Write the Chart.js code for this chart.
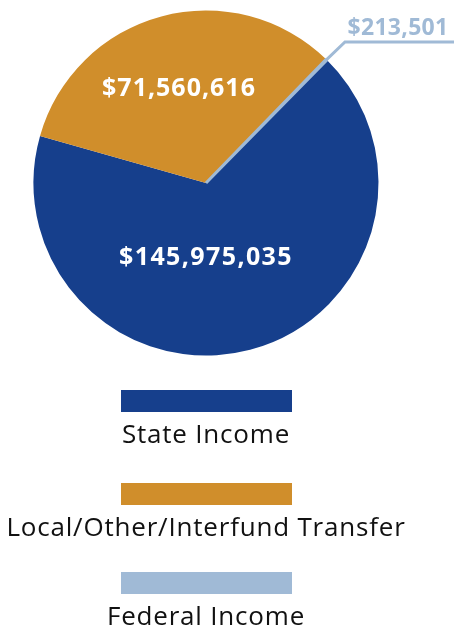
<!DOCTYPE html>
<html><head><meta charset="utf-8">
<script src="https://cdn.jsdelivr.net/npm/chart.js@4"></script>
<style>html,body{margin:0;padding:0;background:#fff;}#wrap{position:relative;width:454px;height:630px;}</style>
</head><body><div id="wrap"><canvas id="c" width="454" height="630"></canvas></div>
<script>
const categories = ["State Income", "Local/Other/Interfund Transfer", "Federal Income"];
const values = [145975035, 71560616, 213501];
const valueLabels = ["$145,975,035", "$71,560,616", "$213,501"];
const colors = ["#163F8C", "#D08E2B", "#A0BAD6"];

const labelPlugin = {
  id: 'labels',
  afterDraw(chart) {
    const ctx = chart.ctx;
    const meta = chart.getDatasetMeta(0);
    const a0 = meta.data[0];
    const cx = a0.x, cy = a0.y, R = a0.outerRadius;
    ctx.save();
    ctx.textAlign = 'center';
    ctx.textBaseline = 'alphabetic';
    ctx.font = 'bold 25px "Open Sans"';
    ctx.letterSpacing = '1.4px';
    ctx.fillStyle = '#fff';
    ctx.fillText(valueLabels[0], cx, cy + 82);
    ctx.letterSpacing = '1px';
    ctx.fillText(valueLabels[1], cx - 27, cy - 87);
    // federal callout
    const fed = meta.data[2];
    const mid = (fed.startAngle + fed.endAngle) / 2;
    const px = cx + Math.cos(mid) * (R - 4), py = cy + Math.sin(mid) * (R - 4);
    ctx.strokeStyle = colors[2];
    ctx.lineWidth = 3;
    ctx.beginPath();
    ctx.moveTo(px, py);
    ctx.lineTo(cx + 139, cy - 141);
    ctx.lineTo(454, cy - 141);
    ctx.stroke();
    ctx.fillStyle = colors[2];
    ctx.font = 'bold 23px "Open Sans"';
    ctx.letterSpacing = '0.3px';
    ctx.fillText(valueLabels[2], 398, 35);
    // legend
    const boxTops = [390, 483, 572];
    ctx.font = '26px "Open Sans"';
    ctx.letterSpacing = '0.8px';
    for (let i = 0; i < categories.length; i++) {
      ctx.fillStyle = colors[i];
      ctx.fillRect(121, boxTops[i], 171, 22);
      ctx.fillStyle = '#111';
      ctx.fillText(categories[i], 206, boxTops[i] + 53);
    }
    ctx.restore();
  }
};

new Chart(document.getElementById('c'), {
  type: 'pie',
  data: {
    labels: categories,
    datasets: [{
      data: values,
      backgroundColor: colors,
      borderColor: colors,
      borderWidth: [0, 0, 3]
    }]
  },
  options: {
    responsive: false,
    animation: false,
    rotation: 44.5,
    layout: { padding: { left: 32, right: 74, top: 9, bottom: 273 } },
    plugins: { legend: { display: false }, tooltip: { enabled: false } }
  },
  plugins: [labelPlugin]
});
</script></body></html>
